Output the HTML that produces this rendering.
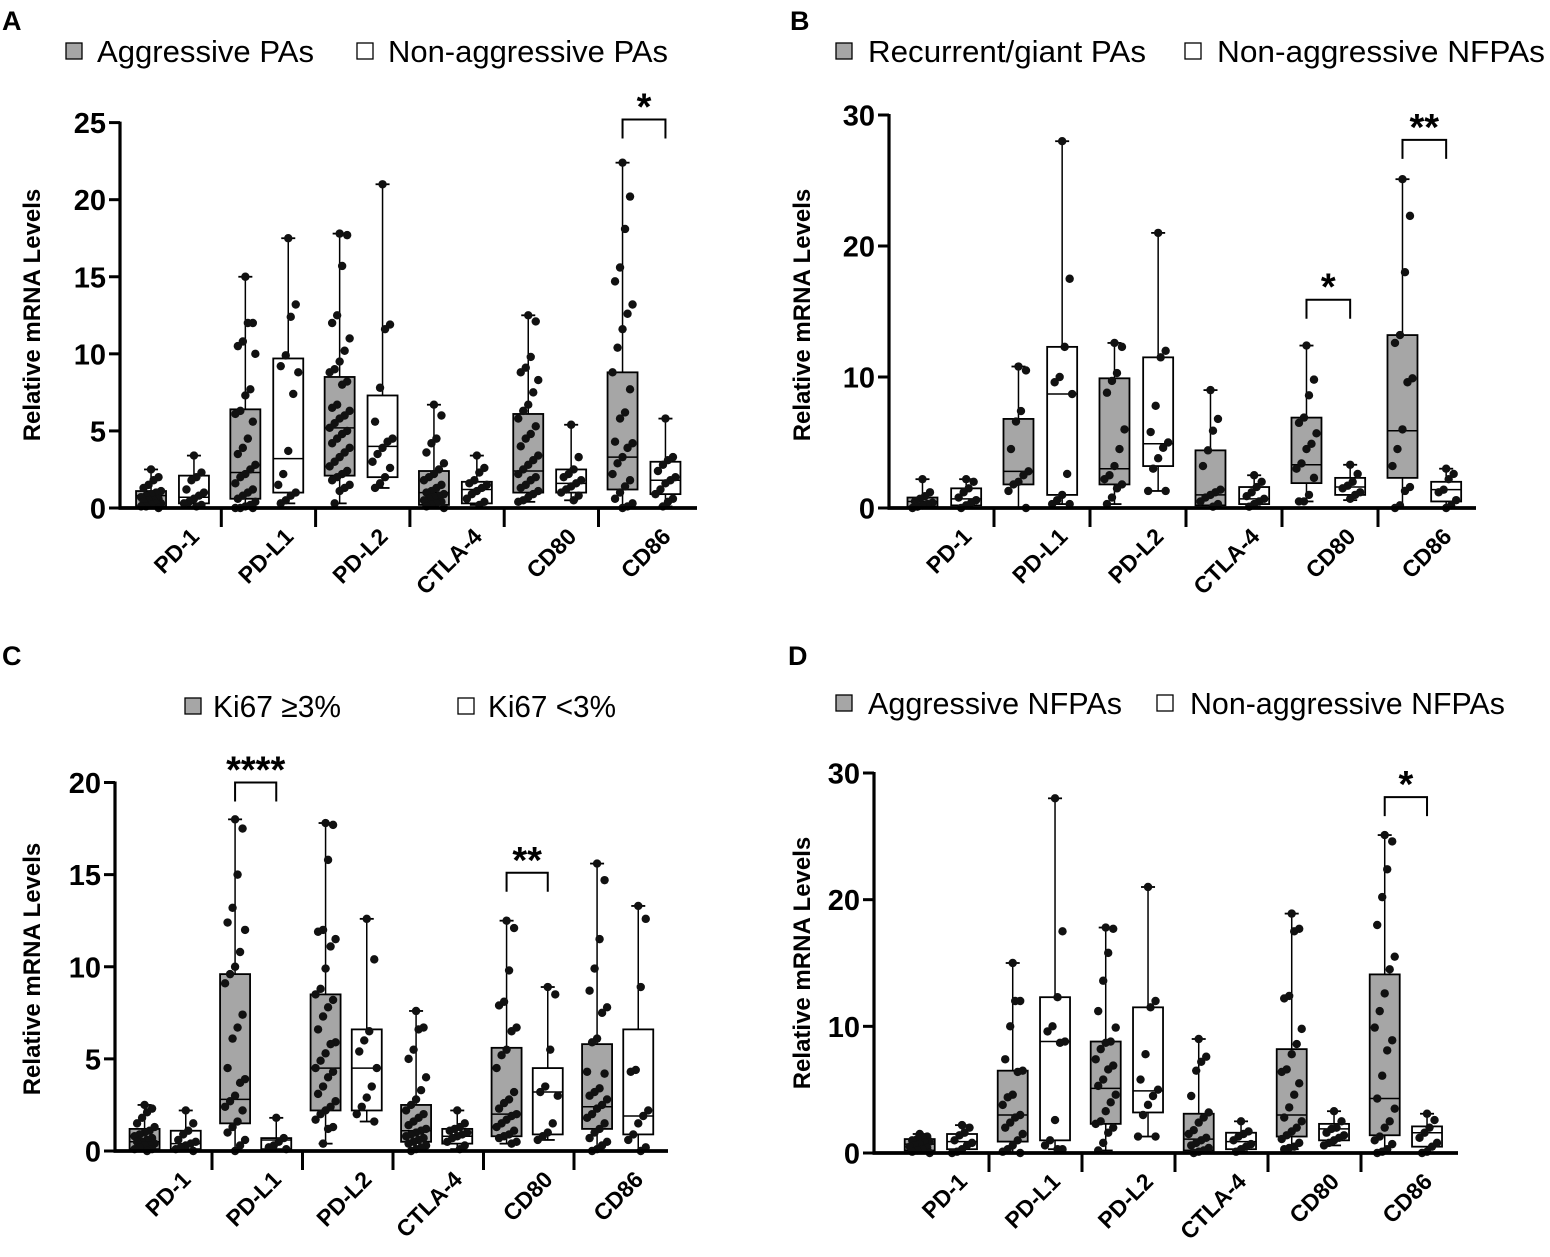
<!DOCTYPE html>
<html><head><meta charset="utf-8">
<style>
html,body{margin:0;padding:0;background:#fff;}
svg{display:block;font-family:"Liberation Sans",Arial,sans-serif;}
.tick{font-weight:bold;font-size:29px;}
.xl{font-weight:bold;font-size:23px;}
.yt{font-weight:bold;font-size:24px;}
.lg{font-size:31px;}
.pl{font-weight:bold;font-size:27px;}
</style></head>
<body>
<svg id="fig" width="1550" height="1257" viewBox="0 0 1550 1257" xmlns="http://www.w3.org/2000/svg">
<text class="pl" x="2" y="30">A</text>
<text class="pl" x="790" y="30">B</text>
<text class="pl" x="2" y="665">C</text>
<text class="pl" x="788" y="665">D</text>
</svg>
<script>
const categories = ["PD-1","PD-L1","PD-L2","CTLA-4","CD80","CD86"];
// stats: [min, q1, median, q3, max]
const aGrayStats = [[0,0.1,0.8,1.1,2.5],[0,0.6,2.3,6.4,15],[0.3,2.1,5.2,8.5,17.8],[0,0.2,1.0,2.4,6.7],[0.4,1.0,2.4,6.1,12.5],[0,1.2,3.3,8.8,22.4]];
const aWhiteStats = [[0.1,0.3,0.7,2.1,3.4],[0.3,1.0,3.2,9.7,17.5],[1.3,2.0,4.0,7.3,21],[0.2,0.3,1.2,1.7,3.4],[0.5,1.0,1.6,2.5,5.4],[0.1,0.9,1.8,3.0,5.8]];
const aGrayPts = [
 [2.5,2.0,1.8,1.5,1.3,1.1,1.0,0.9,0.8,0.7,0.6,0.5,0.5,0.4,0.3,0.3,0.2,0.1,0.1,0],
 [15,12,12,10.8,10.5,10,7.7,7.3,6.3,6.1,5.6,4.5,3.9,3.5,2.8,2.5,2.2,2,1.6,1.2,1,0.8,0.6,0.4,0.2,0.1,0,0,0],
 [17.8,17.7,15.7,12.5,12,11,10.2,9.5,9,8.8,8.2,8,6.7,6.5,6.3,6.0,5.8,5.5,5.2,5,4.8,4.5,4.2,3.9,3.6,3.3,3.0,2.7,2.4,2.2,2.0,1.8,1.5,1.3,1.1,0.3],
 [6.7,6,4.5,4.2,3.6,2.9,2.5,2.2,2,1.8,1.5,1.3,1.1,1,0.9,0.8,0.7,0.6,0.5,0.4,0.3,0.2,0.1,0],
 [12.5,12.1,9.8,9.1,8.8,8.3,7.5,6.7,6.3,5.8,5.3,4.8,4.5,4.0,3.4,3.1,2.8,2.5,2.2,2.0,1.8,1.5,1.3,1.1,0.9,0.7,0.5,0.4],
 [22.4,20.2,18.1,15.6,14.7,13.2,12.6,11.6,10.4,8.8,7.7,6.2,5.8,4.3,4.2,3.9,3.3,2.9,2.2,1.8,1.4,1.0,0.6,0.3,0.1,0]];
const aWhitePts = [
 [3.4,2.3,2.0,1.8,1.2,1.0,0.8,0.6,0.4,0.3,0.2,0.1],
 [17.5,13.2,12.4,9.9,9.2,8.8,7.4,3.7,2.2,1.5,1.0,0.8,0.5,0.3],
 [21,11.9,11.6,7.8,5.6,4.5,4.3,3.9,3.5,3.0,2.6,2.0,1.6,1.3],
 [3.4,2.6,2.3,1.8,1.6,1.5,1.3,1.1,0.9,0.6,0.4,0.2],
 [5.4,3.3,2.5,2.2,2.0,1.8,1.6,1.4,1.2,1.0,0.8,0.5],
 [5.8,3.3,3.1,2.8,2.4,2.0,1.8,1.6,1.2,0.9,0.6,0.4,0.1]];
const bGrayStats = [[0,0.1,0.5,0.8,2.2],[0,1.8,2.8,6.8,10.8],[0.3,1.8,3.0,9.9,12.6],[0,0.2,1.0,4.4,9],[0.5,1.9,3.3,6.9,12.4],[0,2.3,5.9,13.2,25.1]];
const bWhiteStats = [[0,0.2,0.7,1.5,2.2],[0.3,1.0,8.7,12.3,28],[1.3,3.2,4.9,11.5,21],[0.1,0.3,0.7,1.6,2.5],[0.6,1.0,1.6,2.3,3.3],[0,0.5,1.4,2.0,3.0]];
const bGrayPts = [
 [2.2,1.2,0.9,0.7,0.5,0.4,0.3,0.2,0.1,0],
 [10.8,10.5,7.4,6.6,4.5,2.8,2.5,2.0,1.8,1.3,0],
 [12.6,12.3,10.3,9.7,8.8,6,4.5,3.2,2.5,2.2,1.8,1.5,0.8,0.3],
 [9,6.8,5.9,4.4,3.2,1.4,1.2,1.0,0.8,0.5,0.3,0.1],
 [12.4,9.8,8.6,6.9,6.5,5.7,4.9,4.5,3.4,3.0,2.3,1.0,0.5,0.5],
 [25.1,22.3,18,13.2,12.6,9.9,9.6,6,4.5,3.2,1.6,1.3,0.2,0]];
const bWhitePts = [
 [2.2,2.0,1.5,1.2,0.8,0.6,0.4,0.2,0],
 [28,17.5,12.3,10,9.6,8.7,2.6,1.0,0.6,0.3,0.3],
 [21,12,11.5,7.8,5.8,5,4.6,3.8,3.0,1.3,1.3],
 [2.5,2.0,1.6,1.2,0.9,0.7,0.5,0.3,0.1],
 [3.3,2.6,2.0,1.7,1.5,1.2,1.0,0.7],
 [3.0,2.6,2.2,1.4,1.2,0.6,0.2,0]];
const cGrayStats = [[0,0.1,0.5,1.2,2.5],[0,1.5,2.8,9.6,18],[0.4,2.2,4.5,8.5,17.8],[0,0.5,1.1,2.5,7.6],[0.4,0.8,2.0,5.6,12.5],[0,1.2,2.4,5.8,15.6]];
const cWhiteStats = [[0,0.1,0.4,1.1,2.2],[0.1,0.1,0.6,0.7,1.8],[1.6,2.2,4.5,6.6,12.6],[0.1,0.4,0.8,1.2,2.2],[0.6,0.9,3.2,4.5,8.9],[0,0.9,1.9,6.6,13.3]];
const cGrayPts = [
 [2.5,2.3,2.1,1.8,1.5,1.3,1.1,1.0,0.9,0.8,0.7,0.6,0.5,0.5,0.4,0.3,0.3,0.2,0.1,0.1,0],
 [18,17.5,15,13.2,12.4,12,10.8,10,9.6,9.1,7.4,6.7,6.1,4.5,3.9,3.7,3.0,2.7,2.4,2.2,1.6,1.3,1.0,0.6,0.3,0],
 [17.8,17.7,15.8,12,11.9,11.5,11.1,9.9,8.8,8.5,8.2,7.8,7.3,6.6,5.9,5.8,5.3,4.9,4.5,4.3,4.0,3.5,3.1,2.7,2.4,2.2,2.0,1.7,1.3,1.2,0.4],
 [7.6,6.7,6.6,5.5,5,4,3.3,2.8,2.5,2.2,2.0,1.8,1.6,1.4,1.2,1.1,1.0,0.9,0.8,0.7,0.6,0.5,0.4,0.3,0.2,0.1,0],
 [12.5,12.1,9.8,8.1,7.9,6.7,6.5,5.5,5.2,4.5,3.2,2.8,2.6,2.3,2.0,1.9,1.7,1.5,1.3,1.1,0.9,0.8,0.7,0.5,0.4],
 [15.6,14.7,11.5,9.9,8.7,7.8,7.5,6.1,5.9,4.3,4.2,3.4,3.2,3.0,2.8,2.5,2.3,2.0,1.8,1.5,1.2,1.0,0.7,0.5,0.3,0.1,0]];
const cWhitePts = [
 [2.2,1.5,1.1,0.9,0.6,0.5,0.4,0.3,0.2,0.1,0],
 [1.8,0.7,0.5,0.3,0.2,0.1],
 [12.6,10.4,6.5,6,5.4,4.5,3.5,2.9,2.4,2.0,1.6],
 [2.2,1.5,1.3,1.2,1.1,1.0,0.9,0.8,0.7,0.5,0.3,0.1],
 [8.9,8.5,5.5,3.5,3.2,3.0,1.5,1.0,0.8,0.6],
 [13.3,12.6,8.9,4.4,4.3,2.2,1.9,1.5,0.9,0.6,0.2,0]];
const dGrayStats = [[0,0.2,0.7,1.1,1.5],[0,0.9,3.0,6.5,15],[0.2,2.3,5.1,8.8,17.8],[0,0.2,1.1,3.1,9],[0.3,1.3,3.0,8.2,18.9],[0,1.4,4.3,14.1,25.1]];
const dWhiteStats = [[0,0.3,0.9,1.5,2.2],[0.3,1.0,8.8,12.3,28],[1.3,3.2,4.9,11.5,21],[0.1,0.3,0.9,1.6,2.5],[0.6,1.0,1.9,2.3,3.3],[0,0.5,1.6,2.1,3.1]];
const dGrayPts = [
 [1.5,1.3,1.2,1.1,1.0,0.9,0.8,0.7,0.6,0.5,0.4,0.3,0.2,0.1,0],
 [15,12,12,10,7.4,6.5,6.4,4.6,4.4,3.8,3.0,2.8,2.4,2.0,1.5,1.0,0.6,0.3,0.1,0],
 [17.8,17.7,15.8,13.6,11.2,9.9,8.8,8.7,8.2,7.4,6.9,6.6,5.8,5.3,4.6,4.0,3.3,2.5,2.3,2.0,1.6,0.8,0.2],
 [9,7.6,7.2,6.5,4.5,3.2,2.8,2.4,1.8,1.5,1.2,1.0,0.8,0.6,0.4,0.2,0.1,0],
 [18.9,17.7,17.5,12.4,12.2,9.8,8.6,7.8,6.6,6.4,5.5,4.6,3.6,2.8,2.5,2.0,1.7,1.4,1.1,0.8,0.5,0.4,0.3],
 [25.1,24.6,22.4,20.2,18,15.5,14.5,12.6,11.2,9.9,8.9,8.1,6.1,4.3,3.5,2.5,2.0,1.3,1.0,0.7,0.3,0.1,0]];
const dWhitePts = [
 [2.2,2.0,1.6,1.4,1.0,0.8,0.6,0.3,0.1,0],
 [28,17.5,12.3,10,9.6,8.8,8.7,2.6,1.0,0.6,0.3,0.3],
 [21,12,11.5,7.8,5.8,5,4.5,3.8,3.0,1.3,1.3],
 [2.5,1.7,1.5,1.3,1.0,0.7,0.5,0.3,0.1],
 [3.3,2.5,2.0,1.9,1.6,1.4,1.2,1.0,0.8,0.6],
 [3.1,2.6,2.0,1.6,1.2,0.8,0.5,0.1,0]];
const aTicks = [0,5,10,15,20,25];
const bTicks = [0,10,20,30];
const cTicks = [0,5,10,15,20];
const dTicks = [0,10,20,30];
// significance brackets: [category index, bracket value, label]
const aSig = [[5,25.2,"*"]];
const bSig = [[4,15.9,"*"],[5,28.1,"**"]];
const cSig = [[1,20.0,"****"],[4,15.1,"**"]];
const dSig = [[5,28.1,"*"]];
const aLegend = ["Aggressive PAs","Non-aggressive PAs"];
const bLegend = ["Recurrent/giant PAs","Non-aggressive NFPAs"];
const cLegend = ["Ki67 \u22653%","Ki67 <3%"];
const dLegend = ["Aggressive NFPAs","Non-aggressive NFPAs"];

const NS = "http://www.w3.org/2000/svg";
const svg = document.getElementById("fig");
function mk(tag, attrs, parent){
  const e = document.createElementNS(NS, tag);
  for (const k in attrs) e.setAttribute(k, attrs[k]);
  (parent||svg).appendChild(e);
  return e;
}
function panel(cfg){
  const g = mk("g", {});
  
  
  const y = v => cfg.y0 - (v / cfg.ymax) * (cfg.y0 - cfg.yTop);
  const gx = i => cfg.start + i * cfg.gw;
  const bw = 30;
  const lg = mk("g", {}, g);
  
  
  const L = cfg.legendPos;
  const s1 = mk("rect", {x:L[0], y:L[4]-19, width:16, height:16, fill:"#a6a6a6", stroke:"#000", "stroke-width":1.3}, lg);
  
  
  const t1 = mk("text", {x:L[1], y:L[4], class:"lg", textLength:L[6], lengthAdjust:"spacingAndGlyphs"}, lg);
  t1.textContent = cfg.legend[0];
  
  
  const s2 = mk("rect", {x:L[2], y:L[4]-19, width:16, height:16, fill:"#fff", stroke:"#000", "stroke-width":1.3}, lg);
  
  
  const t2 = mk("text", {x:L[3], y:L[4], class:"lg", textLength:L[7], lengthAdjust:"spacingAndGlyphs"}, lg);
  t2.textContent = cfg.legend[1];
  
  
  const yt = mk("text", {x:0, y:0, class:"yt", "text-anchor":"middle", transform:`translate(${cfg.ytX},${cfg.ytY}) rotate(-90)`}, g);
  yt.textContent = "Relative mRNA Levels";
  
  
  cfg.ticks.forEach(v => {
    const tl = mk("line", {x1:cfg.ax-11, x2:cfg.ax, y1:y(v), y2:y(v), stroke:"#000", "stroke-width":3}, g);
    
    
    const tt = mk("text", {x:cfg.ax-14, y:y(v)+10.5, class:"tick", "text-anchor":"end"}, g);
    tt.textContent = v;
    
    
  });
  function box(stats, pts, cx, fill, nm){
    const bg = mk("g", {}, g);
    
    
    const [mn,q1,md,q3,mx] = stats;
    mk("line", {x1:cx, x2:cx, y1:y(mx), y2:y(mn), stroke:"#000", "stroke-width":1.5}, bg);
    mk("line", {x1:cx-7, x2:cx+7, y1:y(mx), y2:y(mx), stroke:"#000", "stroke-width":1.8}, bg);
    mk("line", {x1:cx-7, x2:cx+7, y1:y(mn), y2:y(mn), stroke:"#000", "stroke-width":1.8}, bg);
    mk("rect", {x:cx-bw/2, y:y(q3), width:bw, height:Math.max(0.5,y(q1)-y(q3)), fill:fill, stroke:"#000", "stroke-width":1.8}, bg);
    mk("line", {x1:cx-bw/2, x2:cx+bw/2, y1:y(md), y2:y(md), stroke:"#000", "stroke-width":1.5}, bg);
    pts.forEach((v,i) => {
      const j = (((i*7)%9) - 4) / 4 * 10;
      const c = mk("circle", {cx:cx + (i===0?0:j), cy:y(v), r:4.2, fill:"#111"}, bg);
      
      
    });
  }
  categories.forEach((c,i) => {
    box(cfg.grayStats[i], cfg.grayPts[i], gx(i)+0.255*cfg.gw, "#a6a6a6", "box-gray-"+c.toLowerCase());
    box(cfg.whiteStats[i], cfg.whitePts[i], gx(i)+0.71*cfg.gw, "#fff", "box-white-"+c.toLowerCase());
    const lbl = mk("text", {x:0, y:0, class:"xl", "text-anchor":"end", transform:`translate(${gx(i)+0.78*cfg.gw},${cfg.y0+30}) rotate(-45)`}, g);
    lbl.textContent = c;
    
    
    if (i > 0) {
      const sep = mk("line", {x1:gx(i), x2:gx(i), y1:cfg.y0, y2:cfg.y0+19, stroke:"#000", "stroke-width":3}, g);
      
      
    }
  });
  const ya = mk("line", {x1:cfg.ax, x2:cfg.ax, y1:y(cfg.ymax)-1, y2:cfg.y0+1.5, stroke:"#000", "stroke-width":3.2}, g);
  
  
  const xa = mk("line", {x1:cfg.ax-1.5, x2:cfg.axEnd, y1:cfg.y0, y2:cfg.y0, stroke:"#000", "stroke-width":3.8}, g);
  
  
  cfg.sig.forEach(s => {
    const x1 = gx(s[0])+0.255*cfg.gw, x2 = gx(s[0])+0.71*cfg.gw, yy = y(s[1]);
    const p = mk("path", {d:`M${x1},${yy+19} V${yy} H${x2} V${yy+19}`, fill:"none", stroke:"#000", "stroke-width":2}, g);
    
    
    const st = mk("text", {x:(x1+x2)/2, y:yy, "text-anchor":"middle", "font-weight":"bold", "font-size":"38px"}, g);
    st.textContent = s[2];
    
    
  });
}
panel({name:"panel-a", ax:120, y0:508, yTop:122.6, ymax:25, start:127, gw:94.3, axEnd:697, ticks:aTicks,
  grayStats:aGrayStats, whiteStats:aWhiteStats, grayPts:aGrayPts, whitePts:aWhitePts, sig:aSig, legend:aLegend,
  legendPos:[66,97,357,388,62,0,217,280], ytX:40, ytY:315});
panel({name:"panel-b", ax:889, y0:508, yTop:115, ymax:30, start:898, gw:96, axEnd:1476, ticks:bTicks,
  grayStats:bGrayStats, whiteStats:bWhiteStats, grayPts:bGrayPts, whitePts:bWhitePts, sig:bSig, legend:bLegend,
  legendPos:[836,868,1185,1217,62,0,278,328], ytX:810, ytY:315});
panel({name:"panel-c", ax:115, y0:1151, yTop:782.5, ymax:20, start:121.5, gw:90.5, axEnd:668, ticks:cTicks,
  grayStats:cGrayStats, whiteStats:cWhiteStats, grayPts:cGrayPts, whitePts:cWhitePts, sig:cSig, legend:cLegend,
  legendPos:[185,213,458,488,717,0,128,128], ytX:40, ytY:969});
panel({name:"panel-d", ax:874, y0:1153, yTop:773, ymax:30, start:896, gw:93, axEnd:1458, ticks:dTicks,
  grayStats:dGrayStats, whiteStats:dWhiteStats, grayPts:dGrayPts, whitePts:dWhitePts, sig:dSig, legend:dLegend,
  legendPos:[836,868,1157,1190,714,0,254,315], ytX:810, ytY:963});
</script>
</body></html>
